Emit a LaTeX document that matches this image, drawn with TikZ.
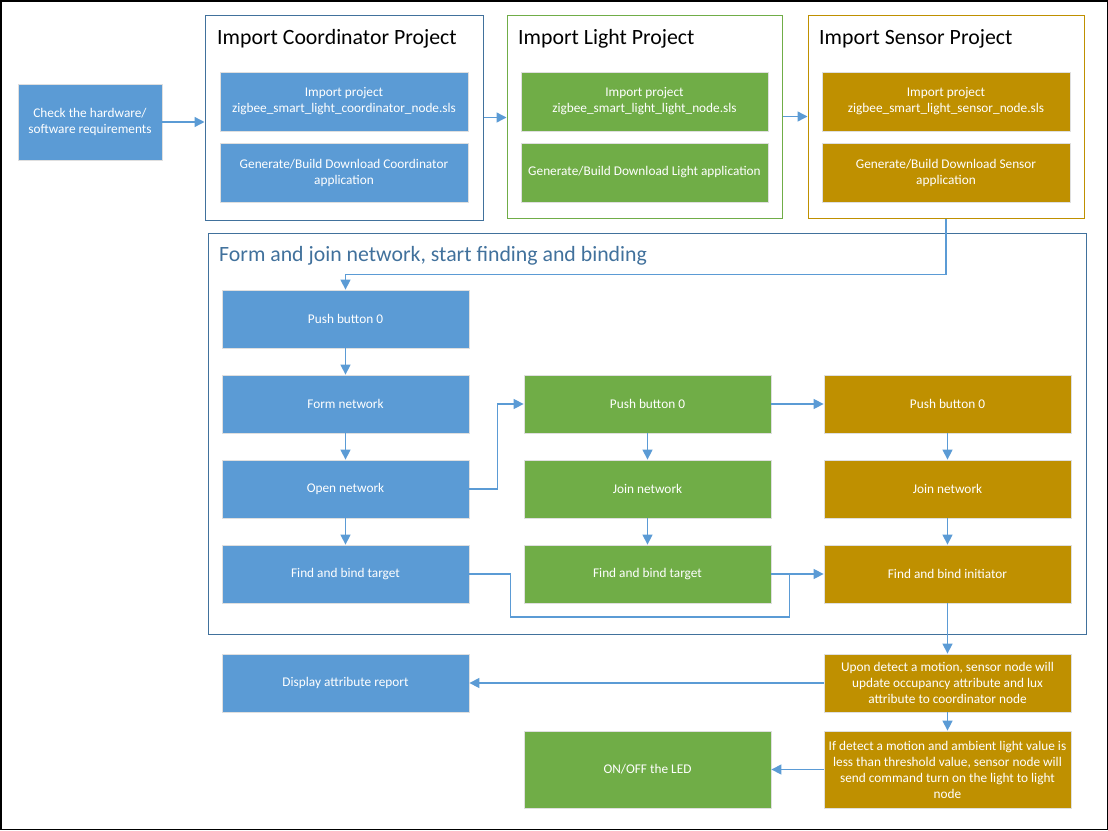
\documentclass[tikz,border=0pt]{standalone}
\usepackage{fontspec}
\setmainfont{Carlito}
\usetikzlibrary{arrows.meta,shadows}
\definecolor{cblue}{HTML}{5B9BD5}
\definecolor{cgreen}{HTML}{70AD47}
\definecolor{cgold}{HTML}{BF9000}
\definecolor{fblue}{HTML}{41719C}
\tikzset{
box/.style={draw=white!75!gray,line width=0.8pt,text=white,font=\fontsize{13.3}{16}\selectfont,
  align=center,minimum width=247pt,minimum height=58pt,inner sep=2pt,
  drop shadow={opacity=0.18,shadow xshift=1.2pt,shadow yshift=-1.2pt}},
bluebox/.style={box,fill=cblue},
greenbox/.style={box,fill=cgreen},
goldbox/.style={box,fill=cgold},
grp/.style={draw=#1,line width=1pt,fill=white},
grptitle/.style={anchor=base west,font=\fontsize{21.8}{24}\selectfont,inner sep=0pt},
arr/.style={draw=cblue,line width=1.4pt,-{Triangle[length=10pt,width=10pt]}},
ln/.style={draw=cblue,line width=1.4pt}
}
\begin{document}
\begin{tikzpicture}[x=1pt,y=-1pt]
\useasboundingbox (0,0) rectangle (1108,830);
\draw[line width=1.5pt] (0.75,0.75) rectangle (1107.25,829.25);
% import projects
\node[bluebox,minimum width=144pt,minimum height=76pt] (chk) at (90,122) {Check the hardware/\\software requirements};
\node[grp=fblue,minimum width=278pt,minimum height=205pt] (cgrp) at (344,117.5) {};
\node[grp=cgreen,minimum width=275pt,minimum height=203pt] (lgrp) at (644.5,116.5) {};
\node[grp=cgold,minimum width=276pt,minimum height=203pt] (sgrp) at (946,116.5) {};
\node[grptitle] (ctitle) at (217,44) {Import Coordinator Project};
\node[grptitle] (ltitle) at (518,44) {Import Light Project};
\node[grptitle] (stitle) at (819,44) {Import Sensor Project};
\node[bluebox,minimum width=248pt,minimum height=59pt] (cimp) at (344,101.5) {Import project\\zigbee\_smart\_light\_coordinator\_node.sls};
\node[bluebox,minimum width=248pt,minimum height=59pt] (cgen) at (344,172.5) {Generate/Build Download Coordinator\\application};
\node[greenbox,minimum width=247pt,minimum height=59pt] (limp) at (644.5,101.5) {Import project\\zigbee\_smart\_light\_light\_node.sls};
\node[greenbox,minimum width=247pt,minimum height=59pt] (lgen) at (644.5,172.5) {Generate/Build Download Light application};
\node[goldbox,minimum width=248pt,minimum height=59pt] (simp) at (946,101.5) {Import project\\zigbee\_smart\_light\_sensor\_node.sls};
\node[goldbox,minimum width=248pt,minimum height=59pt] (sgen) at (946,172.5) {Generate/Build Download Sensor\\application};
\draw[arr] (chk.east) -- (chk.east -| cgrp.west);
\draw[arr] (cgrp.east) -- (cgrp.east -| lgrp.west);
\draw[arr] (lgrp.east) -- (lgrp.east -| sgrp.west);
% network
\node[grp=fblue,fill=none,minimum width=878pt,minimum height=401pt] (ngrp) at (647,433.5) {};
\node[grptitle,text=fblue] (ntitle) at (219,261) {Form and join network, start finding and binding};
\node[bluebox] (cpush) at (345.5,319) {Push button 0};
\node[bluebox] (cform) at (345.5,404) {Form network};
\node[bluebox] (copen) at (345.5,489) {Open network};
\node[bluebox] (cfind) at (345.5,574) {Find and bind target};
\node[greenbox] (lpush) at (647.5,404) {Push button 0};
\node[greenbox] (ljoin) at (647.5,489) {Join network};
\node[greenbox] (lfind) at (647.5,574) {Find and bind target};
\node[goldbox] (spush) at (947.5,404) {Push button 0};
\node[goldbox] (sjoin) at (947.5,489) {Join network};
\node[goldbox] (sfind) at (947.5,574) {Find and bind initiator};
% reports
\node[goldbox] (supd) at (947.5,683) {Upon detect a motion, sensor node will\\update occupancy attribute and lux\\attribute to coordinator node};
\node[goldbox,minimum height=77pt] (scmd) at (947.5,769.5) {If detect a motion and ambient light value is\\less than threshold value, sensor node will\\send command turn on the light to light\\node};
\node[bluebox] (cdisp) at (345.5,683) {Display attribute report};
\node[greenbox,minimum height=77pt] (lled) at (647.5,769.5) {ON/OFF the LED};
\coordinate (jn) at ([xshift=-34pt]sfind.west);
\draw[arr] (sgrp.south) -- ++(0,56) -| (cpush.north);
\draw[arr] (cpush) -- (cform);
\draw[arr] (cform) -- (copen);
\draw[arr] (copen) -- (cfind);
\draw[arr] (copen.east) -- ++(28,0) |- (lpush.west);
\draw[arr] (lpush) -- (spush);
\draw[arr] (lpush) -- (ljoin);
\draw[arr] (ljoin) -- (lfind);
\draw[arr] (spush) -- (sjoin);
\draw[arr] (sjoin) -- (sfind);
\draw[ln] (cfind.east) -- ++(41,0) -- ++(0,43) -| (jn);
\draw[arr] (lfind) -- (sfind);
\draw[arr] (sfind) -- (supd);
\draw[arr] (supd) -- (cdisp);
\draw[arr] (supd) -- (scmd);
\draw[arr] (scmd) -- (lled);
\end{tikzpicture}
\end{document}
